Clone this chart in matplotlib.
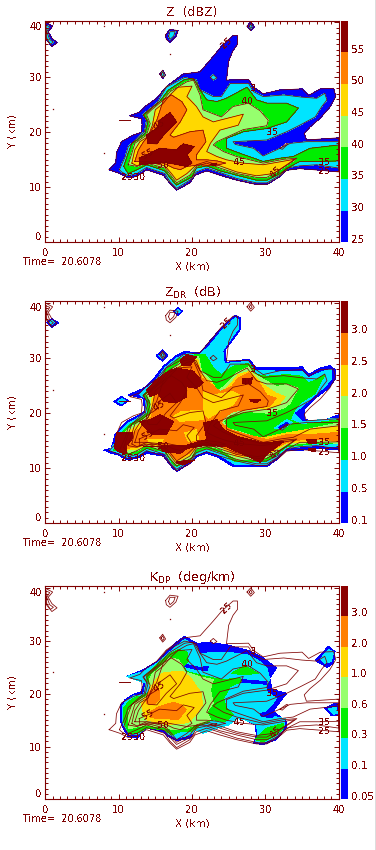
import matplotlib
matplotlib.use("Agg")
import matplotlib.pyplot as plt
from matplotlib.lines import Line2D

plt.rcParams["font.family"] = "DejaVu Sans"
plt.rcParams["text.antialiased"] = False

# colour table of the bands, low to high
BLUE, CYAN, GREEN, LIGHT, YELLOW, ORANGE, RED = (
    "#0000ff", "#00e4ff", "#00ee00", "#96ff6e", "#ffd800", "#ff7f00", "#8b0000"
)
INK = "#7f0000"

# outlines are in km
z25 = [(8.7,13.2),(9.6,14.4),(9.7,16.2),(10.4,18.3),(12,19.5),(13.1,20),(13.2,21.5),(13.1,22.5),(11.5,23),(12.9,23.7),(13.6,24.7),(15.2,26.2),(16.5,28.3),(18.8,30.6),(21.1,31),(22.9,33.8),(24,35.6),(25.6,37.6),(26.2,37.6),(26.2,36),(25.6,34.9),(25,33),(24.7,29.5),(27.7,29.6),(28.4,28.2),(29.7,27),(32,27.7),(35,27.9),(35.9,26.7),(37.5,27.9),(39.3,28),(39.6,26.5),(38.8,24.6),(37.5,22.6),(36.1,21),(35.3,19.8),(35.6,18.6),(40,19),(40,12.8),(37.5,13.1),(34.7,13.4),(32.9,13.1),(31.8,11.8),(30.2,10.5),(28.8,10.5),(26.1,11.3),(23.8,12.2),(22,13),(20.4,12.2),(19.7,10.8),(17.9,9.5),(17,10.7),(16.1,12.2),(13.8,13.2),(12.5,12),(11.3,11.7),(10.2,12.5)]
z30 = [(10.1,13.2),(10.9,15.6),(11.3,17.4),(12.5,18.9),(13.5,20.1),(13.8,22.2),(13.3,23.2),(13.8,23.8),(15.2,25.3),(16.5,28.2),(19,30),(20.6,29.5),(21.1,27.7),(22.9,26.5),(24,26.5),(25.2,28.9),(27.7,28.9),(28.4,27.4),(29.7,26.5),(32.5,26.8),(35,26.4),(37,26.2),(38.1,27.1),(38.4,25.9),(37.7,24.7),(36.8,22.8),(34.7,21.3),(32.9,20.1),(30.2,18.6),(25.6,18.3),(25.9,17.8),(28.4,17.1),(29.7,15.7),(31.5,16.8),(33.4,18),(35.6,18.3),(40,18.3),(40,13.5),(37,14.1),(34.7,13.9),(32.9,13.5),(32,12.2),(30.2,10.8),(28.8,10.8),(26.1,11.6),(23.8,12.7),(22,13.5),(20.6,12.8),(19.7,11.3),(17.9,9.8),(17,11),(16.3,12.5),(13.8,13.6),(12.5,12.5),(11.3,12.1),(10.4,12.8)]
z35 = [(10.7,13.8),(11.3,16.2),(11.8,18),(12.5,18.6),(13.6,19.8),(14,21.9),(13.4,23.2),(14,23.8),(15.6,25.6),(16.8,27.7),(19,29.6),(20.2,29.8),(21.1,27.7),(22,25.9),(23.4,25.6),(24.7,26.2),(27.5,28.2),(28.8,25.9),(30.2,25.3),(32.9,25.3),(34.5,24.4),(32.9,21.9),(30.2,20.7),(27,20.1),(24.7,18.9),(24.7,17.1),(26.5,16.2),(29.7,14.7),(32,15.3),(33.8,15.6),(36.1,17.1),(40,17.7),(40,14.8),(37.5,14.7),(34.7,14.7),(33.4,13.8),(32,12.5),(30.2,11.3),(28.8,11.3),(26.1,12.2),(23.8,13),(22,13.9),(20.6,13.5),(20,11.9),(17.9,10.4),(17.1,11.6),(16.3,13),(13.8,14.1),(12.5,13.2),(11.3,12.5)]
z40 = [(11.3,14.1),(11.8,16.2),(12.2,18),(13.8,19.5),(14.3,21.6),(13.8,23.2),(14.5,24.1),(16.1,25.9),(17,27.4),(19.3,29.2),(20.2,29.5),(21.1,26.8),(21.5,24.1),(24,22.8),(25.6,24.7),(27.7,25.3),(29.3,23.9),(30.4,22.2),(30.2,21.2),(27,20.5),(23.4,18.3),(22.9,17.7),(24.3,16.5),(26.1,15.6),(29.7,14.4),(32.5,15.1),(34.3,15.3),(33.4,14.4),(32,13.2),(30.2,11.8),(28.8,11.8),(26.1,12.5),(23.8,13.5),(22,14.4),(20.6,13.8),(19.7,12.2),(17.9,10.8),(17.1,12.2),(16.3,13.5),(13.8,14.4),(12.5,13.8)]
z45 = [(11.8,14.4),(12.2,16.8),(12.9,18.3),(14,19.2),(14.6,21.3),(15,24.1),(16.1,25.3),(17,26.8),(18.1,28.2),(20,28.4),(19.3,26.5),(20.6,24.7),(21.5,22.8),(22.9,21.9),(27,23.3),(26.3,21.3),(23.8,20.4),(22.5,18),(22,16.5),(23.4,15.6),(24.7,15),(27,14.4),(29.7,14.1),(34,15.1),(32.9,14.1),(31.1,12.5),(28.8,12.1),(26.1,12.8),(23.8,13.9),(22,14.7),(20.6,14.1),(19.3,12.5),(17.9,11.3),(17.2,12.5),(16.3,13.9),(13.8,14.7),(12.5,13.9)]
z50 = [(12.2,14.7),(12.7,16.8),(13.4,18.3),(14,19.2),(15.2,22.2),(16.1,25.9),(17.2,26.8),(18.6,25.6),(19.3,24.1),(18.4,21.9),(17,19.5),(17.5,19.1),(19.7,20.1),(21.5,20.4),(21.9,18.3),(20.6,15.9),(20.6,15),(22,15),(23.4,14.8),(24.6,14.4),(22.9,13.9),(21.1,14.1),(19.3,13.8),(18.4,13.2),(17.5,13.5),(16.1,14.4),(13.8,14.7)]
z55_a = [(13.8,19.5),(14,18),(15.2,17.9),(16.5,20.1),(17.9,21.9),(17,23.6),(15.6,22.2),(15.2,20.7)]
z55_b = [(12.8,15.3),(12.9,14.1),(15.2,14.4),(16.5,14.5),(19.3,13.8),(20,14.4),(19.3,15.9),(20.3,17.4),(18.8,17.9),(17.9,16.8),(15.6,17.1),(14.3,16.2)]
z55_c = [(22.5,14.2),(23.4,14.4),(23.1,13.9)]
z_sliver = [(32,17.1),(32.9,18),(33.1,17.9),(32.3,16.9)]
z_cyan_patch = [(22.5,30),(22.9,30.5),(23.4,29.9),(22.9,29.5)]

# small echoes away from the main body
blob_tl_outer = [(0,40),(1,39.3),(0.4,38.3),(0.9,37.1),(1.6,36.3),(0.9,35.6),(0.2,36.8),(0,38)]
blob_tl_inner = [(0.1,39.5),(0.6,39.2),(0.2,38.3),(0.6,36.9),(1.1,36.4),(0.7,36),(0.2,37.1)]
blob_n_outer = [(16.4,37.7),(17,38.7),(18.1,38.5),(17.8,37.4),(17,36.4),(16.5,36.9)]
blob_n_inner = [(16.8,37.5),(17,38.3),(17.7,38.3),(17.5,37.5),(17,36.9)]
blob_ne_outer = [(27.5,39.3),(28,40.1),(28.5,39.2),(28,38.5)]
blob_ne_inner = [(27.8,39.3),(28,39.7),(28.2,39.2),(28,38.9)]
blob_mid_outer = [(15.6,30.6),(16,31.3),(16.4,30.4),(16,29.8)]
blob_mid_inner = [(15.8,30.6),(16,31),(16.2,30.4),(16,30.1)]
stray_x = [8, 1.1, 17, 8, 0.2]
stray_y = [39.3, 24.2, 34.2, 16.2, 21]
west_dash_x = [10, 11.5]
west_dash_y = [22.2, 22.2]

zdr01 = [(8,13.3),(9,13.6),(9.5,16.1),(11.1,18.5),(12.9,19.7),(13.5,20.3),(13.4,22.7),(11.3,23.3),(13.4,24.5),(14.7,26.1),(16.1,28.5),(17.7,30.3),(19,31.2),(21.1,30.9),(22.2,32.7),(24,35.5),(25.9,37.7),(26.6,37.3),(26.6,35.2),(25.4,33),(24.5,31.5),(24.7,29.2),(27.7,29.8),(28.8,28.2),(32,28.2),(35,28.4),(35.9,27),(37.5,28.2),(38.8,28.6),(39.5,27.9),(39.5,26.1),(38.6,24.5),(36.8,22.7),(35.4,20.9),(35.4,18.9),(37,18.2),(40,19.7),(40,13.3),(37.2,13.6),(35.2,13.3),(32.9,13.3),(31.5,11.5),(30.2,10.3),(25.6,10.3),(23.4,12.1),(22,12.7),(20.6,12.1),(19.7,10.9),(17.9,9.4),(17.2,10.3),(16.1,12.2),(13.8,12.7),(12.5,11.8),(11.1,11.5),(10,12.4),(9,12.7)]
zdr05 = [(8.8,13.3),(9.5,14.5),(9.8,16.1),(11.3,18.2),(12.9,19.3),(13.7,20.1),(13.7,22.7),(12.9,23.3),(13.8,24.5),(15,25.8),(16.3,28.2),(17.9,30),(19.3,30.8),(21.1,30.6),(22.5,32.4),(24.2,35.2),(25.9,37.3),(26.3,37),(26.3,35.3),(25.2,33.3),(24.2,31.4),(24.4,29),(27.7,29.4),(28.6,27.8),(32,27.6),(35,27.6),(35.9,26.4),(37.5,27.4),(39,28),(39,26.2),(38.1,24.8),(36.5,23),(35,21.2),(33.8,20),(35,18.5),(40,19.1),(40,13.9),(37,14.1),(35,13.9),(32.9,13.6),(31.3,11.8),(30.2,10.7),(25.9,10.7),(23.6,12.5),(22,13.2),(20.6,12.5),(19.7,11.2),(17.9,9.8),(17.2,10.8),(16.2,12.7),(13.8,13.2),(12.5,12.3),(11.1,12),(10,12.8)]
zdr10 = [(9.3,13.3),(10,15.2),(10.2,16.1),(11.5,17.9),(13.1,19.1),(14,20),(14,22.4),(13.4,23.3),(14,24.2),(15.2,25.5),(16.5,27.8),(18.1,29.7),(19.5,30.4),(20.6,30.6),(21.8,30.6),(22.9,28.2),(24,27),(25.6,28.5),(27.7,29),(28.8,27),(30.2,26.7),(32.9,27),(35,26.7),(35.9,25.5),(37,26.1),(38.1,27),(36.8,23.6),(34.7,21.8),(34,20.6),(33.4,18.8),(35,17.9),(40,18.8),(40,14.4),(37,14.5),(35,14.2),(32.9,13.9),(31.1,12.2),(30,11.2),(25.9,11.2),(23.8,13),(22,13.6),(20.6,13),(19.7,11.5),(17.9,10.3),(17.2,11.2),(16.3,13),(13.8,13.6),(12.5,12.7),(11.1,12.4),(9.7,13.2)]
zdr15 = [(10,13.5),(10.3,15.8),(11.8,17.6),(13.4,18.8),(14.3,20),(14.3,22.4),(13.8,23.3),(14.5,24.2),(15.6,25.8),(16.8,27.4),(18.4,29.2),(19.7,30.2),(20.9,30.2),(21.3,27.6),(22.5,26.1),(23.4,23.9),(24.7,25.2),(26.1,27.3),(27.7,28.4),(29,26.7),(31.5,24.8),(32.9,25.2),(34.5,24.5),(33.8,23),(33.4,21.8),(32.5,20.9),(30.2,20),(27.5,20.3),(25.2,19.7),(24.3,18.5),(24.7,17.3),(27,16.4),(29.7,15.2),(32.9,16.1),(36.5,17.3),(40,18.2),(40,14.5),(37,14.8),(35,14.5),(32.9,14.2),(30.9,12.6),(29.7,11.6),(26.1,11.6),(23.9,13.5),(22,14.1),(20.6,13.5),(19.7,11.9),(17.9,10.7),(17.2,11.6),(16.4,13.3),(13.8,14.1),(12.5,13.2),(11.1,12.8)]
zdr20 = [(10.2,13.6),(10.6,15.8),(12,17.3),(13.6,18.5),(14.4,19.7),(14.5,22.4),(14.7,23.6),(15.6,25.2),(17,27),(18.6,28.8),(20,29.7),(20.8,29.7),(21.3,27),(22.9,25.2),(23.8,23.3),(25.6,25.8),(26.3,27),(27.9,27.6),(29.7,25.2),(31.5,23.6),(32.7,23),(31.8,21.5),(30.2,20.9),(27.5,20.6),(25.2,20.3),(23.8,18.5),(24.3,17),(27,16.1),(29.7,15.5),(32.9,16.4),(37,17.3),(40,17.6),(40,14.8),(37,15.2),(35,14.8),(32.9,14.5),(30.9,13),(29.7,12.1),(26.1,12.1),(24,13.9),(22,14.5),(20.6,13.9),(19.7,12.4),(17.9,11.2),(17.2,12.1),(16.4,13.6),(13.8,14.4),(12.5,13.5),(11.1,13.3)]
zdr25 = [(10.5,13.9),(11,15.8),(12.5,16.8),(13.8,18.2),(14.5,19.4),(14.8,21.5),(15,23.3),(15.9,24.8),(17.2,26.7),(18.8,28.4),(20.2,29.1),(20.9,28.5),(21.3,26.4),(22.9,25),(23.8,23.9),(25.4,24.8),(26.3,26.4),(27.7,27.3),(29,25.8),(30.2,23.3),(31.5,22.7),(30.6,21.3),(27.9,20.7),(25.6,20.3),(24.3,19.1),(24,18.2),(25.2,17),(27.5,16.1),(30.2,15.2),(32.9,16.1),(37,16.2),(40,16.5),(40,15),(37,15.3),(35,15.2),(32.9,14.7),(30.9,13.3),(29.7,12.4),(26.1,12.4),(24.1,14.2),(22,14.8),(20.6,14.2),(19.7,12.8),(17.9,11.5),(17.2,12.4),(16.4,13.9),(13.8,14.7),(12.5,13.9),(11.1,13.6)]
zdr_yellow_pockets = [
    [(21.6,23.9),(22.9,23.3),(25.6,23.9),(26.5,23.3),(25.6,21.5),(24.7,20.9),(23.8,20.3),(22.2,19.1),(21.5,20.3),(21.5,22.4)],
    [(17.5,19.4),(18.6,20.3),(21.5,20.5),(21.6,18.8),(20.2,18.7),(18.4,18.5)],
    [(19,16.4),(20.6,17),(20.9,15.2),(19.5,14.8)],
    [(14,15.2),(16.1,15.3),(15.6,14.2),(14.3,14.4)],
]
zdr30_parts = [
    [(13.8,24.2),(15.2,26.1),(16.5,27.4),(17.9,28.2),(20.2,27.6),(21.5,25.5),(20.6,24.5),(19.3,24.8),(19.3,23),(17.9,21.9),(16.1,22.1),(15.4,23.6),(14.3,23)],
    [(18.4,29.7),(19.3,30.6),(20.6,30.2),(19.7,28.6),(18.6,28.6)],
    [(12.9,18.5),(14.3,18.8),(15.6,19.7),(17.5,18.5),(16.5,16.1),(14.5,16.1),(13.6,17.3)],
    [(9.4,13.6),(9.7,16.4),(11.9,16.5),(11.8,15.2),(11,14.2),(11.1,12.7),(10.2,12.8)],
    [(13.4,13.9),(19.3,14.2),(22,15.2),(21.6,18.2),(23.4,18.8),(24.3,17),(26.1,15.8),(29.3,14.7),(32.5,14.8),(30.6,13),(29.3,11.1),(27.7,12.1),(24.7,13.9),(22,14.2),(19.3,13.6),(18.4,12.7),(16.1,13),(15.6,13.9)],
    [(26.9,26.2),(28.2,26.4),(28.1,25.3),(27,25.3)],
    [(27.9,22.5),(29.3,22.4),(28.8,21.9),(28,22.1)],
    [(35.6,15.2),(37,15.3),(37,14.4),(35.9,14.4)],
    [(35.9,13.6),(36.8,13.5),(36.8,13),(35.9,13.2)],
    [(17.9,11.2),(20.4,11.5),(18.8,10.6),(18.1,10.9)],
]
zdr_wedge_cyan = [(31.3,17.3),(32.9,18.8),(33.7,18.3),(32.2,17)]
zdr_wedge_blue = [(31.8,17.4),(32.9,18.3),(33.1,18.1),(32.1,17.2)]
zdr_w_outer = [(9.3,22.1),(10.4,23),(11.3,22.3),(10.4,21.3)]
zdr_w_inner = [(9.8,22.1),(10.4,22.6),(10.9,22.3),(10.4,21.7)]
zdr_mid_outer = [(15.1,30.4),(16,31.5),(16.7,30.4),(16,29.4)]
zdr_mid_inner = [(15.5,30.4),(16,31),(16.3,30.4),(16,29.9)]
zdr_n_outer = [(17.5,38.5),(18.1,39.1),(18.7,38.5),(18.1,37.8)]
zdr_n_inner = [(17.8,38.5),(18.1,38.8),(18.4,38.5),(18.1,38.2)]
zdr_tl_outer = [(0.2,36.5),(0.9,37.1),(1.8,36.4),(0.9,35.6)]
zdr_tl_inner = [(0.6,36.5),(0.9,36.8),(1.2,36.4),(0.9,36)]

kdp005 = [(10.3,14.7),(10.3,17.9),(10.9,18.9),(12,19.9),(13.1,20.4),(13.5,22.3),(11.1,23.3),(13.4,24.6),(15.2,26.1),(16.5,27.9),(17.9,29.8),(19,30.9),(20.6,29.6),(22.5,29.7),(24.7,29.3),(27.7,28.2),(29.7,26.8),(31.5,24.9),(30.6,23),(30.9,20.8),(32.9,20.1),(31.5,17.6),(31.1,16.6),(32.9,14.7),(32.8,13.5),(31.5,11.3),(29.7,10.4),(28.4,10.6),(28.8,12.2),(28.6,14.1),(27.2,15.1),(25.6,16),(24.7,14.7),(23.4,13.8),(21.5,13.2),(20.6,13.5),(19.7,11.6),(17.9,11.1),(16.8,11.9),(16.1,12.8),(13.8,13.5),(12.5,11.6),(11.3,11.9),(10.6,13.5)]
kdp01 = [(10.5,14.7),(10.5,17.6),(11.1,18.7),(12.1,19.6),(13.4,19.9),(13.7,22),(11.1,23.3),(13.4,24.2),(15.2,25.8),(16.8,27.7),(18.1,29.3),(19,30.3),(20.6,29),(21.1,27.5),(22.9,27.9),(24.7,27.9),(27.5,27.4),(29.3,26.1),(30.2,24.9),(30.6,22.7),(30.2,21.7),(30.2,20.4),(31.5,19.2),(30.9,17.9),(29.7,16.3),(31.1,15.7),(32.7,15.3),(32.5,13.5),(31.3,11.6),(29.7,10.8),(28.6,10.9),(29,12.2),(28.8,14.1),(27.2,15.1),(26.1,15.3),(25,14.1),(23.4,13.5),(21.5,12.5),(20.6,13.2),(19.7,12.2),(17.9,11.6),(17,12.2),(16.2,13.2),(13.8,13.8),(12.5,12.2),(11.5,12.2),(10.9,13.5)]
kdp03 = [(10.7,14.7),(10.7,17.3),(11.3,18.4),(12.2,19.3),(13.4,19.7),(14.7,20.8),(13.8,22.7),(13.8,23.6),(15.2,25.5),(16.8,27.4),(18.1,28.4),(19.3,28),(19.5,26.1),(18.8,25.2),(19.3,24.2),(21.1,23.6),(22.9,23),(24.3,22.7),(26.5,23),(26.7,22.3),(25.2,21.4),(24.7,20.1),(24.3,19.2),(24.7,17.3),(25.6,16),(24.5,14.7),(22.9,15.1),(21.1,14.1),(20.6,13.5),(19.7,12.8),(18.4,12.8),(17.2,12.2),(16.3,13.2),(13.8,13.5),(12.5,12.5),(11.5,12.5)]
kdp03_ne = [(25.4,23.9),(27.2,25.3),(29,23.9),(27,23.6)]
kdp03_se = [(28.6,11.3),(30.2,13.5),(32.5,14.4),(32.5,13.5),(31.1,11.9),(29.7,10.9)]
kdp06 = [(11.3,13.5),(11.3,16.6),(11.8,17.6),(12.9,18.9),(13.8,19.5),(14.3,20.8),(14.2,22.7),(14.5,23.6),(15.6,24.9),(17,26.8),(18.1,26.5),(18.8,25.2),(19,24.2),(20.9,23.3),(22.9,22.7),(22.5,20.8),(22.9,18.2),(22,16.6),(22.5,15.1),(21.1,14.4),(19.3,13.5),(17.5,13.2),(16.5,13.5),(13.8,14.1),(11.8,13.5)]
kdp10 = [(13.4,16),(13.1,18.2),(13.8,19.5),(14.5,21.4),(15.1,22.7),(15.9,23.9),(17.5,24.2),(18.8,24.2),(20,22.7),(20.6,21.4),(21.3,20.1),(21.4,17.9),(20.6,16.3),(19.7,14.7),(18.8,14.4),(16.5,14.2),(15.6,14.4),(13.8,15.1)]
kdp20_a = [(13.8,18.2),(14,20.1),(15.2,21.4),(15.6,20.4),(15.5,18.9),(14.7,17.9)]
kdp20_b = [(14.3,16.6),(15.6,17.6),(17.5,18.4),(18.6,17.9),(19.2,17),(18.1,15.1),(16.5,15.3),(15,15.4),(14.3,15.5)]
kdp_blue_bands = [
    [(19,25.6),(21.1,25),(22.2,25.2),(22.1,24.4),(20.6,24.6),(19,25.2)],
    [(26.8,22.7),(30.2,22.3),(30.2,21.8),(26.8,22.2)],
    [(29.3,16.3),(30.6,16.6),(31.5,16.3),(30.9,15.5),(29.5,15.7)],
]
kdp_e1_outer = [(36.8,26.3),(38.6,29),(39.5,28),(39.3,25.8),(38.4,25),(37.5,25.8)]
kdp_e1_inner = [(37.5,26.6),(38.6,28.4),(39.3,27.9),(39,26.1),(38.1,25.8)]
kdp_e2_outer = [(38.1,17.3),(39.5,18.2),(40,18.2),(40,16),(39,15.9)]
kdp_e2_inner = [(38.6,17.2),(39.7,17.4),(39.8,16.3),(39.3,16.1)]

# contour labels of the Z field, they repeat on each panel
label_x = [24.7, 27.5, 31, 26.5, 38, 38, 16.1, 14.1, 15.6, 11.2, 12.8, 31.5, 28.4]
label_y = [36.3, 25.6, 20, 14.5, 14.6, 12.9, 14, 16, 21.3, 11.8, 11.8, 12.8, 28]
label_text = ["25", "40", "35", "45", "35", "25", "50", "55", "45", "25", "30", "45", "3"]
label_rot = [45, 0, 0, 0, 0, 0, 0, 30, 30, 0, 0, 45, 0]

titles = ["Z  (dBZ)", r"Z$_{\mathrm{DR}}$  (dB)", r"K$_{\mathrm{DP}}$  (deg/km)"]
bar_labels_z = ["25", "30", "35", "40", "45", "50", "55"]
bar_labels_zdr = ["0.1", "0.5", "1.0", "1.5", "2.0", "2.5", "3.0"]
bar_labels_kdp = ["0.05", "0.1", "0.3", "0.6", "1.0", "2.0", "3.0"]
bar_colors = [BLUE, CYAN, GREEN, LIGHT, YELLOW, ORANGE, RED]
time_text = "Time=  20.6078"

z_lines = [z25, z30, z35, z40, z45, z50, z55_a, z55_b, z55_c, z_sliver, z_cyan_patch,
           blob_tl_outer, blob_tl_inner, blob_n_outer, blob_n_inner,
           blob_ne_outer, blob_ne_inner, blob_mid_outer, blob_mid_inner]

WIDTH, HEIGHT = 376, 850


def fill(ax, outline, color):
    xs, ys = zip(*outline)
    ax.fill(xs, ys, color=color, lw=0, antialiased=False)


def closed_line(ax, outline):
    xs, ys = zip(*(list(outline) + [outline[0]]))
    ax.plot(xs, ys, color=INK, lw=0.55, solid_joinstyle="round")


def make_panel(top, bottom, ytop, title, bar_labels):
    ax = fig.add_axes([45.3 / WIDTH, 1 - bottom / HEIGHT, 293.4 / WIDTH, (bottom - top) / HEIGHT])
    ax.set_xlim(0, 40)
    ax.set_ylim(0, ytop)
    ax.set_xticks(range(0, 41, 10))
    ax.set_yticks(range(0, 41, 10))
    ax.set_xticks(range(0, 41), minor=True)
    ax.set_yticks(range(0, 41), minor=True)
    ax.tick_params(which="major", direction="in", top=True, right=True, length=3.8, width=0.7,
                   color=INK, labelcolor=INK, labelsize=7.2, pad=4)
    ax.tick_params(which="minor", direction="in", top=True, right=True, length=1.9, width=0.7, color=INK)
    ax.tick_params(axis="y", pad=2.5)
    labels = ax.get_yticklabels()
    labels[0].set_va("bottom")
    labels[-1].set_va("top")
    for side in ax.spines.values():
        side.set_color(INK)
        side.set_linewidth(0.8)
    ax.set_title(title, color=INK, fontsize=9, pad=3.2)
    ax.set_xlabel("X (km)", color=INK, fontsize=7.5, labelpad=2.5)
    ax.set_ylabel("Y (km)", color=INK, fontsize=7.5)
    ax.yaxis.set_label_coords(-0.096, 0.5)
    ax.annotate(time_text, xy=(0, 0), xycoords="axes fraction", xytext=(-16, -14),
                textcoords="offset points", color=INK, fontsize=7, va="center")

    cax = fig.add_axes([341.3 / WIDTH, 1 - bottom / HEIGHT, 6.9 / WIDTH, (bottom - top) / HEIGHT])
    for i, c in enumerate(bar_colors):
        cax.bar(0, 1, bottom=i, width=1, color=c, lw=0, antialiased=False)
    cax.set_xlim(-0.5, 0.5)
    cax.set_ylim(0, 7)
    cax.axis("off")
    for i, text in enumerate(bar_labels):
        cax.annotate(text, xy=(1, i), xycoords=cax.get_yaxis_transform(), xytext=(2.2, 2),
                     textcoords="offset points", color=INK, fontsize=7.5, va="center")
    return ax


def overlay(ax):
    for outline in z_lines:
        closed_line(ax, outline)
    ax.plot(stray_x, stray_y, ls="", marker="s", ms=0.9, color=INK, mew=0)
    ax.plot(west_dash_x, west_dash_y, color=INK, lw=0.7)
    for x, y, text, rot in zip(label_x, label_y, label_text, label_rot):
        ax.text(x, y, text, color=INK, fontsize=6.8, rotation=rot, ha="center", va="center")


fig = plt.figure(figsize=(WIDTH / 100, HEIGHT / 100), dpi=100)

# Z panel
ax1 = make_panel(20.7, 242.3, 40.3, titles[0], bar_labels_z)
for outline, color in [(z25, BLUE), (blob_tl_outer, BLUE), (blob_n_outer, BLUE), (blob_ne_outer, BLUE),
                       (blob_mid_outer, BLUE), (z_sliver, "white"), (z30, CYAN), (z_cyan_patch, CYAN),
                       (blob_tl_inner, CYAN), (blob_n_inner, CYAN), (blob_ne_inner, CYAN),
                       (blob_mid_inner, CYAN), (z35, GREEN), (z40, LIGHT), (z45, YELLOW), (z50, ORANGE),
                       (z55_a, RED), (z55_b, RED), (z55_c, RED)]:
    fill(ax1, outline, color)
overlay(ax1)

# ZDR panel
ax2 = make_panel(301.3, 523.3, 40.3, titles[1], bar_labels_zdr)
for outline, color in [(zdr01, BLUE), (zdr_w_outer, BLUE), (zdr_mid_outer, BLUE), (zdr_n_outer, BLUE),
                       (zdr_tl_outer, BLUE), (zdr05, CYAN), (zdr_w_inner, CYAN), (zdr_mid_inner, CYAN),
                       (zdr_n_inner, CYAN), (zdr_tl_inner, CYAN), (zdr10, GREEN), (zdr_wedge_cyan, CYAN),
                       (zdr_wedge_blue, BLUE), (zdr15, LIGHT), (zdr20, YELLOW), (zdr25, ORANGE)]:
    fill(ax2, outline, color)
for outline in zdr_yellow_pockets:
    fill(ax2, outline, YELLOW)
for outline in zdr30_parts:
    fill(ax2, outline, RED)
overlay(ax2)

# KDP panel
ax3 = make_panel(585.7, 799.3, 40.5, titles[2], bar_labels_kdp)
for outline, color in [(kdp005, BLUE), (kdp_e1_outer, BLUE), (kdp_e2_outer, BLUE), (kdp01, CYAN),
                       (kdp_e1_inner, CYAN), (kdp_e2_inner, CYAN)]:
    fill(ax3, outline, color)
for outline in kdp_blue_bands:
    fill(ax3, outline, BLUE)
for outline, color in [(kdp03, GREEN), (kdp03_ne, GREEN), (kdp03_se, GREEN), (kdp06, LIGHT),
                       (kdp10, YELLOW), (kdp20_a, ORANGE), (kdp20_b, ORANGE)]:
    fill(ax3, outline, color)
overlay(ax3)

# thin grey strip along the right edge of the image
fig.add_artist(Line2D([374.7 / WIDTH, 374.7 / WIDTH], [0, 1], color="#dcdcdc", lw=0.7))

fig.savefig("out.png", dpi=100)
plt.close(fig)
